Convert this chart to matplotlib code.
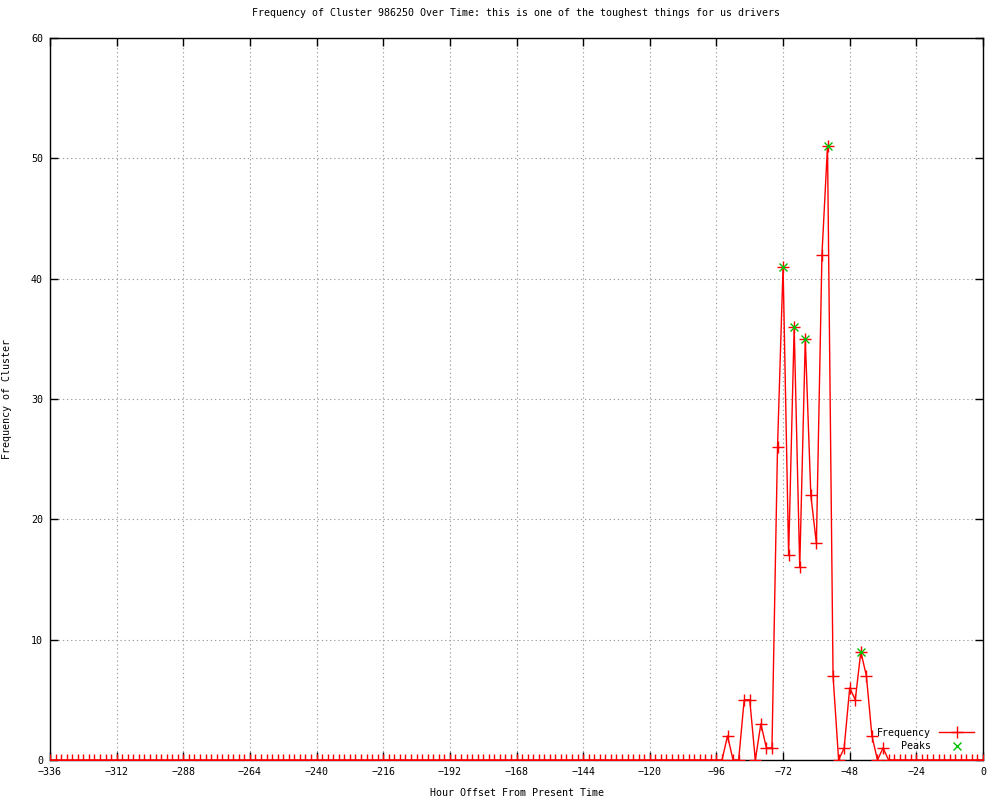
import numpy as np
import matplotlib
matplotlib.use("Agg")
import matplotlib.pyplot as plt

# Data: hour offsets every 2 hours from -336 to 0
hours = list(range(-336, 1, 2))
# non-zero frequencies (hour -> count); all other hours are 0
nonzero = {
    -92: 2, -86: 5, -84: 5, -80: 3, -78: 1, -76: 1,
    -74: 26, -72: 41, -70: 17, -68: 36, -66: 16, -64: 35,
    -62: 22, -60: 18, -58: 42, -56: 51, -54: 7, -52: 0,
    -50: 1, -48: 6, -46: 5, -44: 9, -42: 7, -40: 2, -38: 0, -36: 1,
}
freq = [nonzero.get(h, 0) for h in hours]

peak_hours = [-72, -68, -64, -56, -44]
peak_vals = [41, 36, 35, 51, 9]

xticks = list(range(-336, 1, 24))
yticks = list(range(0, 61, 10))

font = "DejaVu Sans Mono"
plt.rcParams['font.family'] = [font]
fs = 7.2

fig = plt.figure(figsize=(10, 8), dpi=100)
ax = fig.add_axes([0.05, 0.05, 0.933, 0.9025])

ax.plot(hours, freq, color="#ff0000", lw=1.0, marker="+", ms=8, mew=1.0,
        label="Frequency", zorder=3)
ax.plot(peak_hours, peak_vals, linestyle="none", color="#00c000", marker="x",
        ms=5.5, mew=1.0, label="Peaks", zorder=4)

ax.set_xlim(-336, 0)
ax.set_ylim(0, 60)
ax.set_xticks(xticks)
ax.set_yticks(yticks)
ax.set_xticklabels([f"\u2212{abs(t)}" if t < 0 else str(t) for t in xticks])
ax.tick_params(direction="in", top=True, right=True, length=6, width=1,
               labelsize=fs, pad=5)
ax.grid(True, color="#a0a0a0", linestyle=(0, (1.2, 2.5)), lw=0.8)
for s in ax.spines.values():
    s.set_linewidth(1.0)
    s.set_color("black")

ax.set_title("Frequency of Cluster 986250 Over Time: this is one of the toughest things for us drivers",
             fontsize=fs, pad=16)
ax.set_xlabel("Hour Offset From Present Time", fontsize=fs, labelpad=8)
ax.set_ylabel("Frequency of Cluster", fontsize=fs, labelpad=14)

leg = ax.legend(loc="lower right", frameon=False, markerfirst=False,
                fontsize=fs, handlelength=3.5, borderaxespad=0.5,
                labelspacing=0.35, handletextpad=0.8)
for t in leg.get_texts():
    t.set_ha("right")

fig.savefig("out.png", dpi=100, facecolor="white")
